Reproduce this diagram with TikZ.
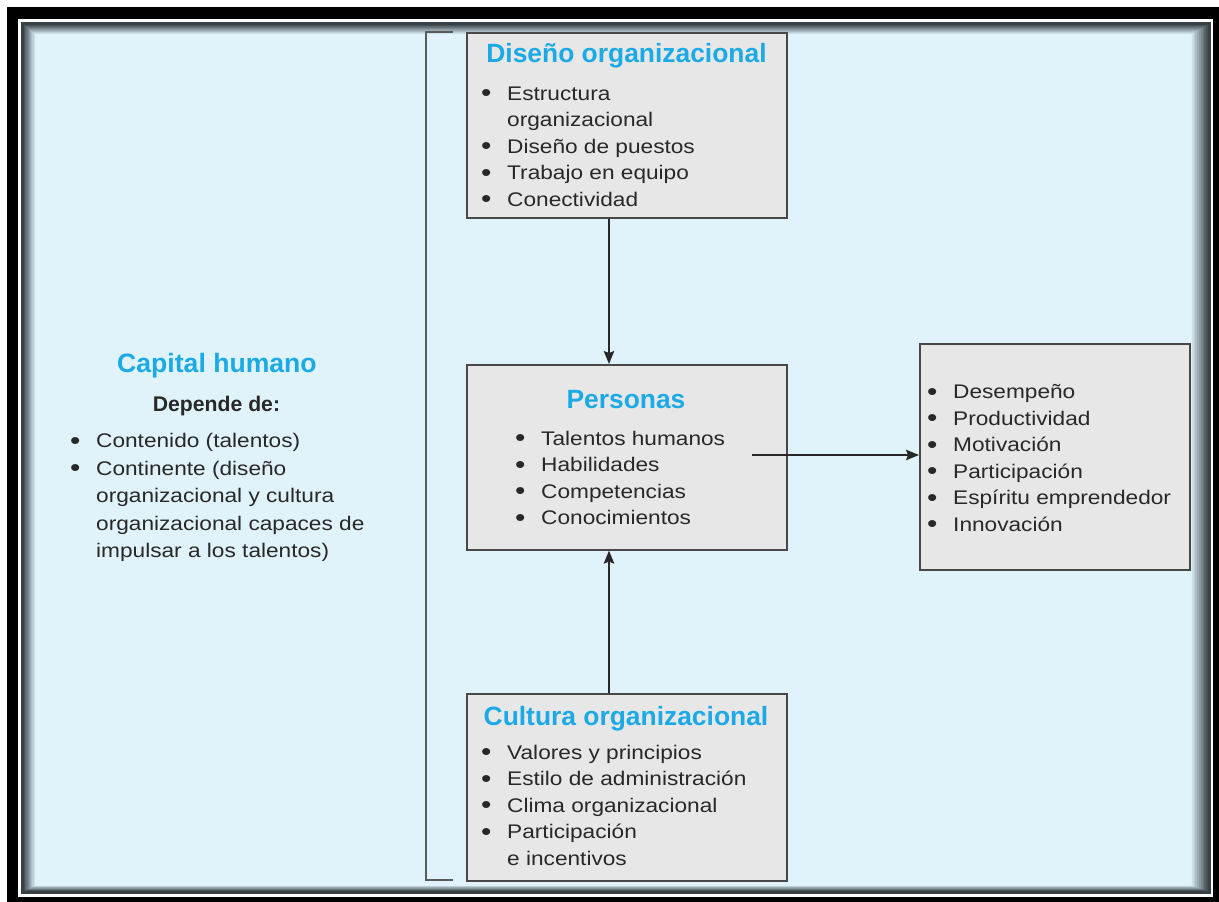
\documentclass[tikz,border=0pt]{standalone}
\usepackage{fontspec}
\setmainfont{Liberation Sans}
\newfontfamily\bodyf{Liberation Sans}[FakeStretch=1.15]
\usetikzlibrary{arrows.meta}
\definecolor{bgblue}{RGB}{224,243,250}
\definecolor{ttl}{RGB}{27,170,230}
\definecolor{txt}{RGB}{40,40,40}
\definecolor{boxfill}{RGB}{231,231,231}
\definecolor{boxline}{RGB}{72,72,72}
\definecolor{shad}{RGB}{70,82,88}
\newcommand{\bulit}{\llap{\makebox[0pt][c]{\raisebox{-1.8pt}{\scalebox{1.3}{\textbullet}}}\hspace{21pt}}}
\tikzset{
  panel/.style={draw=boxline, line width=1.6pt, fill=boxfill, anchor=north west, inner sep=0pt},
  ttlstyle/.style={font=\fontsize{26.4}{30}\selectfont\bfseries, text=ttl, anchor=base, inner sep=0pt},
  lst/.style={font=\bodyf\fontsize{19.7}{26.5}\selectfont, text=txt, anchor=base west, inner sep=0pt},
  conn/.style={draw=txt, line width=1.5pt, -{Stealth[length=13pt,width=10.5pt,inset=2pt]}},
  brk/.style={draw=boxline!90, line width=2pt}
}
\begin{document}
\begin{tikzpicture}[x=1pt,y=-1pt]
\useasboundingbox (0,0) rectangle (1219,902);
% frame
\fill[white] (0,0) rectangle (1219,902);
\fill[black] (7,7) rectangle (1219,902);
\fill[white] (18,19) rectangle (1213,897);
\fill[shad!80!black] (21,22) rectangle (1211,894);
\foreach \i in {0,...,9}{
  \pgfmathsetmacro{\pc}{\i*11}
  \fill[bgblue!\pc!shad] (24+1.2*\i,25+1.0*\i) rectangle (1208-1.8*\i,891-0.6*\i);
}
\fill[bgblue] (36,35) rectangle (1190,885);

% bracket
\coordinate (bt) at (453,32);
\coordinate (bb) at (453,880);
\draw[brk] (bt) -- (426,32) -- (426,880) -- (bb);

% left text
\node[ttlstyle, font=\fontsize{26.6}{30}\selectfont\bfseries] (cap) at (217,372) {Capital humano};
\node[font=\fontsize{21.2}{24}\selectfont\bfseries, text=txt, anchor=base, inner sep=0pt] (dep) at (216.5,411) {Depende de:};
\node[lst, font=\bodyf\fontsize{19.7}{27.6}\selectfont] (leftl) at (96,447.5) {\begin{tabular}[t]{@{}l@{}}
\bulit Contenido (talentos)\\
\bulit Continente (diseño\\
organizacional y cultura\\
organizacional capaces de\\
impulsar a los talentos)
\end{tabular}};

% boxes
\node[panel, minimum width=320pt, minimum height=185pt] (dis) at (466,32) {};
\node[panel, minimum width=320pt, minimum height=185pt] (per) at (466,364) {};
\node[panel, minimum width=320pt, minimum height=187pt] (cul) at (466,693) {};
\node[panel, minimum width=270pt, minimum height=226pt] (res) at (919,343) {};

% box texts
\node[ttlstyle] (dist) at (626.5,62) {Diseño organizacional};
\node[lst] (disl) at (507,100) {\begin{tabular}[t]{@{}l@{}}
\bulit Estructura\\
organizacional\\
\bulit Diseño de puestos\\
\bulit Trabajo en equipo\\
\bulit Conectividad
\end{tabular}};

\node[ttlstyle] (pert) at (626,408) {Personas};
\node[lst] (perl) at (541,445) {\begin{tabular}[t]{@{}l@{}}
\bulit Talentos humanos\\
\bulit Habilidades\\
\bulit Competencias\\
\bulit Conocimientos
\end{tabular}};

\node[ttlstyle] (cult) at (626,725) {Cultura organizacional};
\node[lst] (cull) at (507,759) {\begin{tabular}[t]{@{}l@{}}
\bulit Valores y principios\\
\bulit Estilo de administración\\
\bulit Clima organizacional\\
\bulit Participación\\
e incentivos
\end{tabular}};

\node[lst] (resl) at (953,398.5) {\begin{tabular}[t]{@{}l@{}}
\bulit Desempeño\\
\bulit Productividad\\
\bulit Motivación\\
\bulit Participación\\
\bulit Espíritu emprendedor\\
\bulit Innovación
\end{tabular}};

% connectors
\coordinate (ax) at (609,0);
\coordinate (hs) at (752,455);
\draw[conn] (dis.south -| ax) -- (per.north -| ax);
\draw[conn] (cul.north -| ax) -- (per.south -| ax);
\draw[conn] (hs) -- (res.west |- hs);
\end{tikzpicture}
\end{document}
